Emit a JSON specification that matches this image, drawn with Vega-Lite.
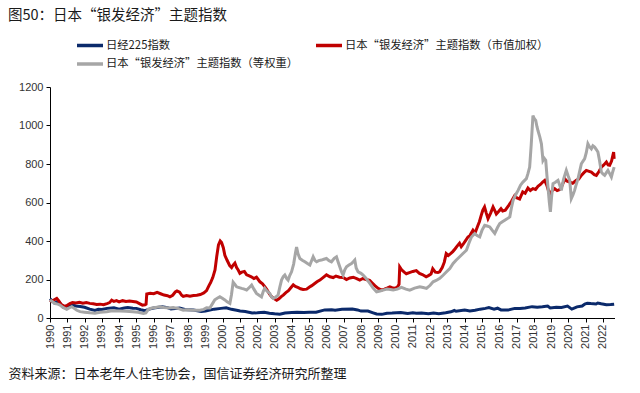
{
  "$schema": "https://vega.github.io/schema/vega-lite/v6.json",
  "autosize": "none",
  "width": 564.5,
  "height": 231,
  "padding": {"left": 50, "top": 87, "right": 25.5, "bottom": 75},
  "background": "white",
  "title": {
    "text": "图50：日本“银发经济”主题指数",
    "anchor": "start",
    "frame": "group",
    "dx": -42,
    "offset": 15,
    "font": "Noto Sans CJK SC",
    "fontSize": 14.5,
    "fontWeight": "normal",
    "color": "#1a1a1a"
  },
  "config": {
    "view": {"stroke": null},
    "axis": {
      "grid": false,
      "labelFont": "Liberation Sans",
      "labelFontSize": 11,
      "labelColor": "#333333",
      "domainColor": "#000000",
      "tickColor": "#000000",
      "tickSize": 4,
      "labelPadding": 2
    }
  },
  "datasets": {
    "nikkei": [
      {"year": 1990.0, "value": 100}, {"year": 1990.1, "value": 92}, {"year": 1990.25, "value": 78}, {"year": 1990.4, "value": 84}, {"year": 1990.55, "value": 80}, {"year": 1990.75, "value": 58}, {"year": 1991.0, "value": 62}, {"year": 1991.25, "value": 68}, {"year": 1991.5, "value": 62}, {"year": 1991.75, "value": 60}, {"year": 1992.0, "value": 56}, {"year": 1992.3, "value": 46}, {"year": 1992.6, "value": 39}, {"year": 1992.8, "value": 45}, {"year": 1993.0, "value": 44}, {"year": 1993.3, "value": 50}, {"year": 1993.7, "value": 53}, {"year": 1994.0, "value": 46}, {"year": 1994.3, "value": 52}, {"year": 1994.5, "value": 54}, {"year": 1994.8, "value": 51}, {"year": 1995.0, "value": 50}, {"year": 1995.25, "value": 43}, {"year": 1995.5, "value": 38}, {"year": 1995.75, "value": 46}, {"year": 1996.0, "value": 52}, {"year": 1996.5, "value": 58}, {"year": 1996.8, "value": 54}, {"year": 1997.0, "value": 47}, {"year": 1997.5, "value": 52}, {"year": 1997.8, "value": 44}, {"year": 1998.0, "value": 43}, {"year": 1998.3, "value": 42}, {"year": 1998.75, "value": 34}, {"year": 1999.0, "value": 36}, {"year": 1999.5, "value": 46}, {"year": 1999.9, "value": 50}, {"year": 2000.2, "value": 53}, {"year": 2000.5, "value": 45}, {"year": 2000.8, "value": 40}, {"year": 2001.0, "value": 36}, {"year": 2001.3, "value": 34}, {"year": 2001.7, "value": 26}, {"year": 2002.0, "value": 27}, {"year": 2002.4, "value": 30}, {"year": 2002.7, "value": 25}, {"year": 2003.0, "value": 22}, {"year": 2003.3, "value": 20}, {"year": 2003.6, "value": 26}, {"year": 2004.0, "value": 28}, {"year": 2004.3, "value": 30}, {"year": 2004.7, "value": 28}, {"year": 2005.0, "value": 30}, {"year": 2005.4, "value": 30}, {"year": 2005.9, "value": 42}, {"year": 2006.3, "value": 43}, {"year": 2006.5, "value": 40}, {"year": 2006.9, "value": 45}, {"year": 2007.5, "value": 47}, {"year": 2007.8, "value": 42}, {"year": 2008.0, "value": 36}, {"year": 2008.4, "value": 36}, {"year": 2008.7, "value": 27}, {"year": 2008.9, "value": 21}, {"year": 2009.2, "value": 19}, {"year": 2009.5, "value": 25}, {"year": 2009.8, "value": 26}, {"year": 2010.3, "value": 29}, {"year": 2010.7, "value": 24}, {"year": 2011.0, "value": 27}, {"year": 2011.2, "value": 25}, {"year": 2011.5, "value": 26}, {"year": 2011.9, "value": 22}, {"year": 2012.2, "value": 26}, {"year": 2012.5, "value": 22}, {"year": 2012.9, "value": 27}, {"year": 2013.2, "value": 32}, {"year": 2013.4, "value": 39}, {"year": 2013.5, "value": 35}, {"year": 2014.0, "value": 41}, {"year": 2014.3, "value": 37}, {"year": 2014.6, "value": 40}, {"year": 2014.9, "value": 46}, {"year": 2015.2, "value": 50}, {"year": 2015.4, "value": 54}, {"year": 2015.7, "value": 46}, {"year": 2015.9, "value": 51}, {"year": 2016.1, "value": 42}, {"year": 2016.5, "value": 41}, {"year": 2016.9, "value": 50}, {"year": 2017.2, "value": 50}, {"year": 2017.5, "value": 52}, {"year": 2017.9, "value": 59}, {"year": 2018.2, "value": 56}, {"year": 2018.5, "value": 58}, {"year": 2018.8, "value": 62}, {"year": 2018.95, "value": 52}, {"year": 2019.3, "value": 56}, {"year": 2019.6, "value": 55}, {"year": 2019.95, "value": 62}, {"year": 2020.2, "value": 46}, {"year": 2020.5, "value": 58}, {"year": 2020.8, "value": 62}, {"year": 2020.95, "value": 72}, {"year": 2021.1, "value": 77}, {"year": 2021.3, "value": 75}, {"year": 2021.6, "value": 73}, {"year": 2021.7, "value": 78}, {"year": 2021.9, "value": 74}, {"year": 2022.2, "value": 69}, {"year": 2022.45, "value": 70}, {"year": 2022.65, "value": 72}
    ],
    "cap": [
      {"year": 1990.0, "value": 92}, {"year": 1990.1, "value": 86}, {"year": 1990.25, "value": 95}, {"year": 1990.39, "value": 102}, {"year": 1990.5, "value": 90}, {"year": 1990.65, "value": 70}, {"year": 1990.87, "value": 59}, {"year": 1991.0, "value": 66}, {"year": 1991.15, "value": 75}, {"year": 1991.3, "value": 80}, {"year": 1991.5, "value": 78}, {"year": 1991.7, "value": 82}, {"year": 1991.9, "value": 77}, {"year": 1992.1, "value": 80}, {"year": 1992.3, "value": 76}, {"year": 1992.5, "value": 74}, {"year": 1992.7, "value": 70}, {"year": 1992.9, "value": 72}, {"year": 1993.1, "value": 69}, {"year": 1993.3, "value": 75}, {"year": 1993.45, "value": 80}, {"year": 1993.57, "value": 93}, {"year": 1993.7, "value": 86}, {"year": 1993.85, "value": 90}, {"year": 1994.0, "value": 84}, {"year": 1994.2, "value": 90}, {"year": 1994.4, "value": 86}, {"year": 1994.6, "value": 88}, {"year": 1994.8, "value": 86}, {"year": 1995.0, "value": 83}, {"year": 1995.15, "value": 76}, {"year": 1995.35, "value": 67}, {"year": 1995.5, "value": 68}, {"year": 1995.56, "value": 72}, {"year": 1995.6, "value": 125}, {"year": 1995.8, "value": 128}, {"year": 1996.0, "value": 126}, {"year": 1996.2, "value": 133}, {"year": 1996.4, "value": 126}, {"year": 1996.6, "value": 119}, {"year": 1996.8, "value": 116}, {"year": 1996.94, "value": 110}, {"year": 1997.1, "value": 118}, {"year": 1997.25, "value": 135}, {"year": 1997.35, "value": 140}, {"year": 1997.5, "value": 134}, {"year": 1997.62, "value": 118}, {"year": 1997.71, "value": 112}, {"year": 1997.9, "value": 117}, {"year": 1998.1, "value": 113}, {"year": 1998.3, "value": 117}, {"year": 1998.5, "value": 118}, {"year": 1998.7, "value": 122}, {"year": 1998.9, "value": 130}, {"year": 1999.06, "value": 142}, {"year": 1999.2, "value": 168}, {"year": 1999.3, "value": 185}, {"year": 1999.42, "value": 210}, {"year": 1999.55, "value": 250}, {"year": 1999.65, "value": 320}, {"year": 1999.75, "value": 380}, {"year": 1999.85, "value": 400}, {"year": 1999.93, "value": 392}, {"year": 2000.03, "value": 365}, {"year": 2000.12, "value": 326}, {"year": 2000.25, "value": 300}, {"year": 2000.4, "value": 272}, {"year": 2000.51, "value": 262}, {"year": 2000.6, "value": 275}, {"year": 2000.7, "value": 285}, {"year": 2000.8, "value": 262}, {"year": 2000.9, "value": 248}, {"year": 2000.99, "value": 232}, {"year": 2001.1, "value": 238}, {"year": 2001.25, "value": 242}, {"year": 2001.38, "value": 224}, {"year": 2001.5, "value": 220}, {"year": 2001.65, "value": 214}, {"year": 2001.8, "value": 205}, {"year": 2001.95, "value": 212}, {"year": 2002.05, "value": 200}, {"year": 2002.15, "value": 188}, {"year": 2002.3, "value": 178}, {"year": 2002.44, "value": 162}, {"year": 2002.55, "value": 148}, {"year": 2002.7, "value": 125}, {"year": 2002.83, "value": 110}, {"year": 2002.95, "value": 102}, {"year": 2003.05, "value": 96}, {"year": 2003.12, "value": 92}, {"year": 2003.25, "value": 100}, {"year": 2003.4, "value": 112}, {"year": 2003.5, "value": 119}, {"year": 2003.65, "value": 132}, {"year": 2003.8, "value": 142}, {"year": 2003.95, "value": 158}, {"year": 2004.08, "value": 172}, {"year": 2004.2, "value": 164}, {"year": 2004.37, "value": 158}, {"year": 2004.5, "value": 152}, {"year": 2004.65, "value": 148}, {"year": 2004.85, "value": 150}, {"year": 2005.0, "value": 160}, {"year": 2005.15, "value": 168}, {"year": 2005.3, "value": 178}, {"year": 2005.45, "value": 188}, {"year": 2005.62, "value": 197}, {"year": 2005.8, "value": 210}, {"year": 2006.0, "value": 224}, {"year": 2006.2, "value": 214}, {"year": 2006.39, "value": 210}, {"year": 2006.55, "value": 218}, {"year": 2006.75, "value": 212}, {"year": 2006.97, "value": 211}, {"year": 2007.16, "value": 200}, {"year": 2007.35, "value": 208}, {"year": 2007.55, "value": 212}, {"year": 2007.75, "value": 205}, {"year": 2007.93, "value": 197}, {"year": 2008.1, "value": 205}, {"year": 2008.3, "value": 200}, {"year": 2008.5, "value": 195}, {"year": 2008.65, "value": 182}, {"year": 2008.8, "value": 168}, {"year": 2008.99, "value": 154}, {"year": 2009.18, "value": 145}, {"year": 2009.35, "value": 150}, {"year": 2009.5, "value": 155}, {"year": 2009.67, "value": 162}, {"year": 2009.8, "value": 158}, {"year": 2009.95, "value": 154}, {"year": 2010.1, "value": 160}, {"year": 2010.2, "value": 175}, {"year": 2010.24, "value": 265}, {"year": 2010.35, "value": 250}, {"year": 2010.5, "value": 238}, {"year": 2010.62, "value": 230}, {"year": 2010.8, "value": 236}, {"year": 2011.0, "value": 242}, {"year": 2011.2, "value": 246}, {"year": 2011.38, "value": 232}, {"year": 2011.55, "value": 226}, {"year": 2011.77, "value": 214}, {"year": 2011.9, "value": 220}, {"year": 2012.05, "value": 228}, {"year": 2012.15, "value": 256}, {"year": 2012.3, "value": 238}, {"year": 2012.45, "value": 236}, {"year": 2012.55, "value": 240}, {"year": 2012.7, "value": 262}, {"year": 2012.82, "value": 290}, {"year": 2012.93, "value": 335}, {"year": 2013.05, "value": 325}, {"year": 2013.2, "value": 336}, {"year": 2013.31, "value": 345}, {"year": 2013.45, "value": 360}, {"year": 2013.55, "value": 372}, {"year": 2013.7, "value": 388}, {"year": 2013.8, "value": 370}, {"year": 2013.9, "value": 382}, {"year": 2014.05, "value": 402}, {"year": 2014.19, "value": 421}, {"year": 2014.3, "value": 428}, {"year": 2014.48, "value": 456}, {"year": 2014.6, "value": 442}, {"year": 2014.77, "value": 482}, {"year": 2014.85, "value": 500}, {"year": 2014.96, "value": 534}, {"year": 2015.05, "value": 560}, {"year": 2015.15, "value": 577}, {"year": 2015.25, "value": 545}, {"year": 2015.35, "value": 516}, {"year": 2015.5, "value": 545}, {"year": 2015.64, "value": 577}, {"year": 2015.75, "value": 556}, {"year": 2015.83, "value": 540}, {"year": 2015.95, "value": 552}, {"year": 2016.1, "value": 568}, {"year": 2016.2, "value": 556}, {"year": 2016.35, "value": 560}, {"year": 2016.55, "value": 585}, {"year": 2016.7, "value": 605}, {"year": 2016.89, "value": 635}, {"year": 2017.0, "value": 625}, {"year": 2017.18, "value": 618}, {"year": 2017.36, "value": 655}, {"year": 2017.5, "value": 648}, {"year": 2017.66, "value": 675}, {"year": 2017.8, "value": 662}, {"year": 2017.95, "value": 672}, {"year": 2018.1, "value": 668}, {"year": 2018.24, "value": 684}, {"year": 2018.4, "value": 695}, {"year": 2018.5, "value": 705}, {"year": 2018.63, "value": 715}, {"year": 2018.75, "value": 690}, {"year": 2018.92, "value": 640}, {"year": 2019.05, "value": 660}, {"year": 2019.21, "value": 672}, {"year": 2019.35, "value": 662}, {"year": 2019.5, "value": 667}, {"year": 2019.65, "value": 690}, {"year": 2019.79, "value": 724}, {"year": 2019.9, "value": 712}, {"year": 2020.08, "value": 706}, {"year": 2020.25, "value": 700}, {"year": 2020.46, "value": 715}, {"year": 2020.6, "value": 722}, {"year": 2020.75, "value": 741}, {"year": 2020.9, "value": 755}, {"year": 2021.04, "value": 767}, {"year": 2021.2, "value": 762}, {"year": 2021.33, "value": 758}, {"year": 2021.5, "value": 745}, {"year": 2021.62, "value": 741}, {"year": 2021.78, "value": 762}, {"year": 2021.91, "value": 784}, {"year": 2022.05, "value": 795}, {"year": 2022.2, "value": 810}, {"year": 2022.3, "value": 795}, {"year": 2022.39, "value": 793}, {"year": 2022.5, "value": 815}, {"year": 2022.62, "value": 862}, {"year": 2022.65, "value": 827}
    ],
    "equal": [
      {"year": 1990.0, "value": 93}, {"year": 1990.15, "value": 85}, {"year": 1990.3, "value": 75}, {"year": 1990.45, "value": 72}, {"year": 1990.58, "value": 67}, {"year": 1990.75, "value": 55}, {"year": 1990.97, "value": 45}, {"year": 1991.1, "value": 52}, {"year": 1991.26, "value": 59}, {"year": 1991.4, "value": 50}, {"year": 1991.55, "value": 40}, {"year": 1991.74, "value": 33}, {"year": 1992.0, "value": 30}, {"year": 1992.31, "value": 27}, {"year": 1992.6, "value": 25}, {"year": 1992.9, "value": 30}, {"year": 1993.28, "value": 33}, {"year": 1993.6, "value": 38}, {"year": 1994.05, "value": 36}, {"year": 1994.4, "value": 35}, {"year": 1994.8, "value": 33}, {"year": 1995.1, "value": 30}, {"year": 1995.4, "value": 24}, {"year": 1995.55, "value": 27}, {"year": 1995.69, "value": 45}, {"year": 1995.9, "value": 52}, {"year": 1996.1, "value": 55}, {"year": 1996.36, "value": 58}, {"year": 1996.6, "value": 55}, {"year": 1996.9, "value": 52}, {"year": 1997.13, "value": 55}, {"year": 1997.4, "value": 50}, {"year": 1997.71, "value": 41}, {"year": 1998.0, "value": 43}, {"year": 1998.3, "value": 40}, {"year": 1998.68, "value": 40}, {"year": 1998.9, "value": 45}, {"year": 1999.06, "value": 53}, {"year": 1999.25, "value": 52}, {"year": 1999.44, "value": 80}, {"year": 1999.54, "value": 95}, {"year": 1999.7, "value": 104}, {"year": 1999.83, "value": 110}, {"year": 1999.95, "value": 104}, {"year": 2000.12, "value": 94}, {"year": 2000.25, "value": 84}, {"year": 2000.41, "value": 76}, {"year": 2000.5, "value": 120}, {"year": 2000.6, "value": 186}, {"year": 2000.7, "value": 175}, {"year": 2000.8, "value": 162}, {"year": 2000.95, "value": 158}, {"year": 2001.09, "value": 154}, {"year": 2001.25, "value": 150}, {"year": 2001.38, "value": 145}, {"year": 2001.55, "value": 160}, {"year": 2001.67, "value": 171}, {"year": 2001.8, "value": 150}, {"year": 2001.95, "value": 128}, {"year": 2002.1, "value": 118}, {"year": 2002.24, "value": 110}, {"year": 2002.35, "value": 140}, {"year": 2002.43, "value": 154}, {"year": 2002.55, "value": 140}, {"year": 2002.72, "value": 128}, {"year": 2002.82, "value": 110}, {"year": 2002.92, "value": 102}, {"year": 2003.05, "value": 108}, {"year": 2003.2, "value": 119}, {"year": 2003.3, "value": 160}, {"year": 2003.4, "value": 197}, {"year": 2003.5, "value": 215}, {"year": 2003.59, "value": 223}, {"year": 2003.7, "value": 205}, {"year": 2003.78, "value": 197}, {"year": 2003.88, "value": 222}, {"year": 2003.98, "value": 240}, {"year": 2004.1, "value": 280}, {"year": 2004.2, "value": 335}, {"year": 2004.27, "value": 369}, {"year": 2004.35, "value": 335}, {"year": 2004.46, "value": 309}, {"year": 2004.6, "value": 300}, {"year": 2004.75, "value": 292}, {"year": 2004.9, "value": 283}, {"year": 2005.04, "value": 275}, {"year": 2005.15, "value": 300}, {"year": 2005.23, "value": 318}, {"year": 2005.33, "value": 300}, {"year": 2005.43, "value": 292}, {"year": 2005.55, "value": 298}, {"year": 2005.71, "value": 301}, {"year": 2005.85, "value": 305}, {"year": 2006.0, "value": 309}, {"year": 2006.15, "value": 298}, {"year": 2006.29, "value": 292}, {"year": 2006.45, "value": 310}, {"year": 2006.58, "value": 318}, {"year": 2006.68, "value": 290}, {"year": 2006.77, "value": 266}, {"year": 2006.87, "value": 240}, {"year": 2006.96, "value": 223}, {"year": 2007.06, "value": 250}, {"year": 2007.16, "value": 266}, {"year": 2007.3, "value": 275}, {"year": 2007.45, "value": 283}, {"year": 2007.55, "value": 292}, {"year": 2007.64, "value": 301}, {"year": 2007.72, "value": 260}, {"year": 2007.83, "value": 240}, {"year": 2008.0, "value": 232}, {"year": 2008.12, "value": 223}, {"year": 2008.3, "value": 205}, {"year": 2008.51, "value": 180}, {"year": 2008.7, "value": 155}, {"year": 2008.9, "value": 136}, {"year": 2009.1, "value": 140}, {"year": 2009.28, "value": 145}, {"year": 2009.5, "value": 150}, {"year": 2009.7, "value": 148}, {"year": 2009.86, "value": 145}, {"year": 2010.1, "value": 150}, {"year": 2010.34, "value": 159}, {"year": 2010.6, "value": 150}, {"year": 2010.82, "value": 145}, {"year": 2011.1, "value": 155}, {"year": 2011.4, "value": 162}, {"year": 2011.6, "value": 158}, {"year": 2011.79, "value": 154}, {"year": 2012.0, "value": 170}, {"year": 2012.17, "value": 188}, {"year": 2012.35, "value": 195}, {"year": 2012.56, "value": 206}, {"year": 2012.75, "value": 222}, {"year": 2012.95, "value": 240}, {"year": 2013.14, "value": 257}, {"year": 2013.33, "value": 283}, {"year": 2013.5, "value": 300}, {"year": 2013.71, "value": 318}, {"year": 2013.9, "value": 335}, {"year": 2014.1, "value": 352}, {"year": 2014.25, "value": 390}, {"year": 2014.39, "value": 421}, {"year": 2014.58, "value": 439}, {"year": 2014.72, "value": 428}, {"year": 2014.87, "value": 421}, {"year": 2015.0, "value": 455}, {"year": 2015.16, "value": 482}, {"year": 2015.3, "value": 478}, {"year": 2015.45, "value": 473}, {"year": 2015.6, "value": 455}, {"year": 2015.74, "value": 439}, {"year": 2015.9, "value": 470}, {"year": 2016.03, "value": 491}, {"year": 2016.18, "value": 500}, {"year": 2016.32, "value": 508}, {"year": 2016.45, "value": 515}, {"year": 2016.61, "value": 525}, {"year": 2016.7, "value": 570}, {"year": 2016.8, "value": 611}, {"year": 2016.95, "value": 640}, {"year": 2017.09, "value": 663}, {"year": 2017.23, "value": 690}, {"year": 2017.37, "value": 706}, {"year": 2017.47, "value": 715}, {"year": 2017.57, "value": 724}, {"year": 2017.66, "value": 750}, {"year": 2017.76, "value": 784}, {"year": 2017.85, "value": 900}, {"year": 2017.95, "value": 1052}, {"year": 2018.03, "value": 1035}, {"year": 2018.11, "value": 1026}, {"year": 2018.18, "value": 995}, {"year": 2018.24, "value": 974}, {"year": 2018.35, "value": 940}, {"year": 2018.44, "value": 905}, {"year": 2018.53, "value": 819}, {"year": 2018.6, "value": 830}, {"year": 2018.69, "value": 819}, {"year": 2018.76, "value": 740}, {"year": 2018.82, "value": 680}, {"year": 2018.9, "value": 600}, {"year": 2018.96, "value": 551}, {"year": 2019.03, "value": 630}, {"year": 2019.11, "value": 698}, {"year": 2019.25, "value": 705}, {"year": 2019.4, "value": 715}, {"year": 2019.5, "value": 690}, {"year": 2019.59, "value": 663}, {"year": 2019.72, "value": 720}, {"year": 2019.88, "value": 767}, {"year": 2019.98, "value": 740}, {"year": 2020.08, "value": 715}, {"year": 2020.17, "value": 620}, {"year": 2020.27, "value": 640}, {"year": 2020.36, "value": 663}, {"year": 2020.46, "value": 695}, {"year": 2020.56, "value": 724}, {"year": 2020.65, "value": 760}, {"year": 2020.75, "value": 801}, {"year": 2020.85, "value": 815}, {"year": 2020.94, "value": 827}, {"year": 2021.04, "value": 860}, {"year": 2021.13, "value": 905}, {"year": 2021.22, "value": 890}, {"year": 2021.33, "value": 879}, {"year": 2021.42, "value": 895}, {"year": 2021.52, "value": 888}, {"year": 2021.62, "value": 875}, {"year": 2021.71, "value": 862}, {"year": 2021.8, "value": 820}, {"year": 2021.91, "value": 758}, {"year": 2022.0, "value": 748}, {"year": 2022.1, "value": 741}, {"year": 2022.2, "value": 755}, {"year": 2022.29, "value": 767}, {"year": 2022.39, "value": 750}, {"year": 2022.49, "value": 732}, {"year": 2022.57, "value": 760}, {"year": 2022.65, "value": 784}
    ]
  },
  "encoding": {
    "x": {
      "field": "year",
      "type": "quantitative",
      "scale": {"domain": [1990, 2022.67], "nice": false, "zero": false},
      "axis": {
        "values": [1990, 1991, 1992, 1993, 1994, 1995, 1996, 1997, 1998, 1999, 2000, 2001, 2002, 2003, 2004, 2005, 2006, 2007, 2008, 2009, 2010, 2011, 2012, 2013, 2014, 2015, 2016, 2017, 2018, 2019, 2020, 2021, 2022],
        "format": "d",
        "labelAngle": -90,
        "labelOverlap": false,
        "title": "资料来源：日本老年人住宅协会，国信证券经济研究所整理",
        "titleAnchor": "start",
        "titleAlign": "left",
        "titleBaseline": "middle",
        "titleX": -42,
        "titleY": 55,
        "titleFont": "Noto Sans CJK SC",
        "titleFontSize": 13,
        "titleFontWeight": "normal",
        "titleColor": "#1a1a1a"
      }
    },
    "y": {
      "field": "value",
      "type": "quantitative",
      "scale": {"domain": [0, 1200], "nice": false},
      "axis": {"values": [0, 200, 400, 600, 800, 1000, 1200], "format": "d", "title": null, "labelPadding": 3}
    }
  },
  "layer": [
    {
      "data": {"name": "nikkei"},
      "mark": {"type": "line", "strokeWidth": 3},
      "encoding": {
        "color": {
          "datum": "日经225指数",
          "type": "nominal",
          "scale": {
            "domain": ["日经225指数", "日本“银发经济”主题指数（等权重）", "日本“银发经济”主题指数（市值加权）"],
            "range": ["#0B2A6B", "#A6A6A6", "#C00000"]
          },
          "legend": {
            "title": null,
            "orient": "none",
            "legendX": 33,
            "legendY": -48.5,
            "columns": 2,
            "columnPadding": 10,
            "rowPadding": 4.5,
            "symbolType": "M-2.6,0H2.6",
            "symbolSize": 100,
            "symbolStrokeWidth": 3.5,
            "labelFont": "Noto Sans CJK SC",
            "labelFontSize": 11.3,
            "labelColor": "#1a1a1a",
            "labelOffset": 9,
            "labelLimit": 400,
            "padding": 0
          }
        }
      }
    },
    {
      "data": {"name": "cap"},
      "mark": {"type": "line", "strokeWidth": 3},
      "encoding": {"color": {"datum": "日本“银发经济”主题指数（市值加权）", "type": "nominal"}}
    },
    {
      "data": {"name": "equal"},
      "mark": {"type": "line", "strokeWidth": 3},
      "encoding": {"color": {"datum": "日本“银发经济”主题指数（等权重）", "type": "nominal"}}
    }
  ]
}
